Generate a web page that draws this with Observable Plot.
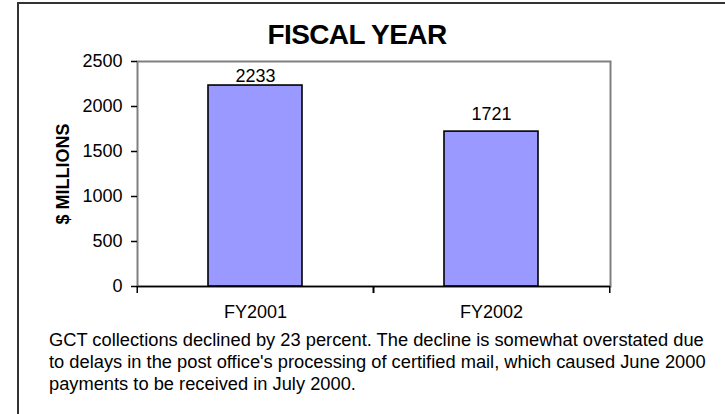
<!DOCTYPE html>
<html>
<head>
<meta charset="utf-8">
<script src="https://cdn.jsdelivr.net/npm/d3@7"></script>
<script src="https://cdn.jsdelivr.net/npm/@observablehq/plot@0.6"></script>
<style>
  html, body { margin: 0; padding: 0; background: #fff; }
  body { width: 725px; height: 414px; overflow: hidden; position: relative; font-family: "Liberation Sans", Arial, sans-serif; color: #000; }
  #frame { position: absolute; left: 17px; top: 2px; width: 760px; height: 460px; border: 2px solid #333; box-sizing: border-box; }
  #wrap { position: absolute; left: 0; top: 0; width: 725px; }
  #title { width: 714px; text-align: center; font-weight: bold; font-size: 28px; letter-spacing: -0.6px; line-height: 28px; padding-top: 21px; height: 27px; }
  #chart svg { display: block; }
  #chart svg text { font-size: 18px !important; font-family: "Liberation Sans", Arial, sans-serif; }
  #caption { margin-left: 49px; margin-top: -1px; font-size: 18.3px; line-height: 22px; white-space: nowrap; }
</style>
</head>
<body>
<div id="frame"></div>
<div id="wrap">
  <div id="title"></div>
  <div id="chart"></div>
  <div id="caption"></div>
</div>
<script>
const titleText = "FISCAL YEAR";
const yLabel = "$ MILLIONS";
const categories = ["FY2001", "FY2002"];
const values = [2233, 1721];
const yTicks = [0, 500, 1000, 1500, 2000, 2500];
const captionLines = [
  "GCT collections declined by 23 percent. The decline is somewhat overstated due",
  "to delays in the post office's processing of certified mail, which caused June 2000",
  "payments to be received in July 2000."
];

const data = categories.map((c, i) => ({category: c, value: values[i]}));

document.getElementById("title").textContent = titleText;
const cap = document.getElementById("caption");
captionLines.forEach(l => { const d = document.createElement("div"); d.textContent = l; cap.appendChild(d); });

const W = 725, H = 282, ml = 137, mr = 115, mt = 13, mb = 44;
const step = (W - ml - mr) / categories.length;
const fs = 18;

const plot = Plot.plot({
  width: W,
  height: H,
  marginLeft: ml,
  marginRight: mr,
  marginTop: mt,
  marginBottom: mb,
  style: {fontFamily: "Liberation Sans, Arial, sans-serif", fontSize: "18px", color: "#000", background: "transparent", overflow: "visible"},
  x: {domain: categories, paddingInner: 0.6, paddingOuter: 0.3, axis: null},
  y: {domain: [0, 2500], axis: null},
  marks: [
    Plot.frame({stroke: "#808080", strokeWidth: 2}),
    Plot.barY(data, {x: "category", y: "value", fill: "#9999ff", stroke: "#000", strokeWidth: 1.6}),
    Plot.ruleY([0], {stroke: "#000", strokeWidth: 1.5}),
    Plot.axisY({ticks: yTicks, tickFormat: d => String(d), tickSize: 6, tickPadding: 9, line: true, label: null, stroke: "#000", strokeWidth: 1.5, fontSize: fs}),
    Plot.axisX({tickSize: 0, tickPadding: 19, label: null, fontSize: fs}),
    Plot.axisX({tickSize: 7, tickFormat: () => "", dx: -step / 2, label: null, stroke: "#000", strokeWidth: 1.5}),
    Plot.axisX({tickSize: 7, tickFormat: () => "", dx: step / 2, label: null, stroke: "#000", strokeWidth: 1.5}),
    Plot.text(data, {filter: d => d.value > 2100, x: "category", y: "value", text: d => String(d.value), dy: -9, fontSize: fs}),
    Plot.text(data, {filter: d => d.value <= 2100, x: "category", y: "value", text: d => String(d.value), dy: -17, fontSize: fs}),
    Plot.text([yLabel], {frameAnchor: "left", textAnchor: "middle", rotate: -90, dx: -74, fontWeight: "bold", fontSize: fs, text: d => d})
  ]
});
document.getElementById("chart").appendChild(plot);
</script>
</body>
</html>
